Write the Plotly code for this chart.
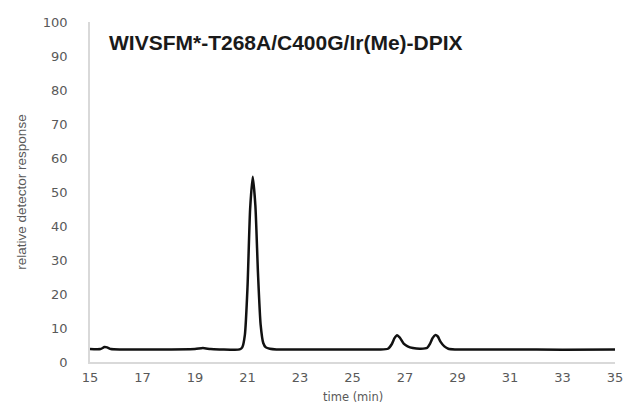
import plotly.graph_objects as go

time_min = [15.0, 15.4, 15.55, 15.65, 15.8, 16.2, 17.0, 18.0, 19.0, 19.3, 19.6, 20.0, 20.5, 20.7, 20.8, 20.9, 21.0, 21.1, 21.2, 21.3, 21.4, 21.5, 21.6, 21.7, 21.85, 22.1, 23.0, 24.0, 25.0, 26.0, 26.35, 26.5, 26.6, 26.7, 26.8, 26.95, 27.1, 27.3, 27.6, 27.85, 27.95, 28.05, 28.15, 28.25, 28.35, 28.5, 28.65, 28.9, 29.5, 31.0, 33.0, 35.0]
response = [3.8, 3.8, 4.4, 4.3, 3.8, 3.7, 3.7, 3.7, 3.8, 4.1, 3.8, 3.7, 3.6, 3.7, 4.3, 8.0, 22.0, 45.0, 54.5, 46.0, 26.0, 11.0, 5.6, 4.3, 3.9, 3.7, 3.7, 3.7, 3.7, 3.7, 3.9, 5.3, 7.0, 7.9, 7.2, 5.4, 4.6, 4.1, 3.9, 4.2, 5.3, 7.0, 7.9, 7.5, 6.0, 4.6, 3.9, 3.7, 3.7, 3.7, 3.6, 3.7]
x_ticks = [15, 17, 19, 21, 23, 25, 27, 29, 31, 33, 35]
y_ticks = [0, 10, 20, 30, 40, 50, 60, 70, 80, 90, 100]
title_text = "WIVSFM*-T268A/C400G/Ir(Me)-DPIX"

fig = go.Figure()
fig.add_trace(go.Scatter(x=time_min, y=response, mode="lines",
                         line=dict(color="#111111", width=2.5, shape="spline", smoothing=0.6),
                         showlegend=False, hoverinfo="skip"))

tick_font = dict(family="DejaVu Sans", size=13, color="#595959")
fig.update_layout(
    width=635, height=405,
    margin=dict(l=90, r=17, t=22, b=43),
    paper_bgcolor="white", plot_bgcolor="white",
    xaxis=dict(range=[15, 35], tickvals=x_ticks, showgrid=False, zeroline=False,
               showline=True, linecolor="#d9d9d9", linewidth=1.5, ticks="",
               tickfont=tick_font, ticklabelstandoff=3),
    yaxis=dict(range=[0, 100], tickvals=y_ticks, showgrid=False, zeroline=False,
               showline=True, linecolor="#d9d9d9", linewidth=1.5, ticks="",
               tickfont=tick_font, ticklabelstandoff=18),
    annotations=[
        dict(text="<b>" + title_text + "</b>", xref="paper", yref="paper",
             x=0.032, y=0.94, xanchor="left", yanchor="middle", showarrow=False,
             font=dict(family="Liberation Sans", size=21, color="#1a1a1a")),
        dict(text="relative detector response", xref="paper", yref="paper",
             x=-0.132, y=0.5, xanchor="center", yanchor="middle", showarrow=False,
             textangle=-90,
             font=dict(family="Liberation Sans Narrow, Liberation Sans", size=13.5, color="#595959")),
        dict(text="time (min)", xref="paper", yref="paper",
             x=0.5, y=-0.127, xanchor="center", yanchor="bottom", showarrow=False,
             borderpad=0,
             font=dict(family="DejaVu Sans", size=11.5, color="#595959")),
    ],
)
fig.write_html("out.html")
